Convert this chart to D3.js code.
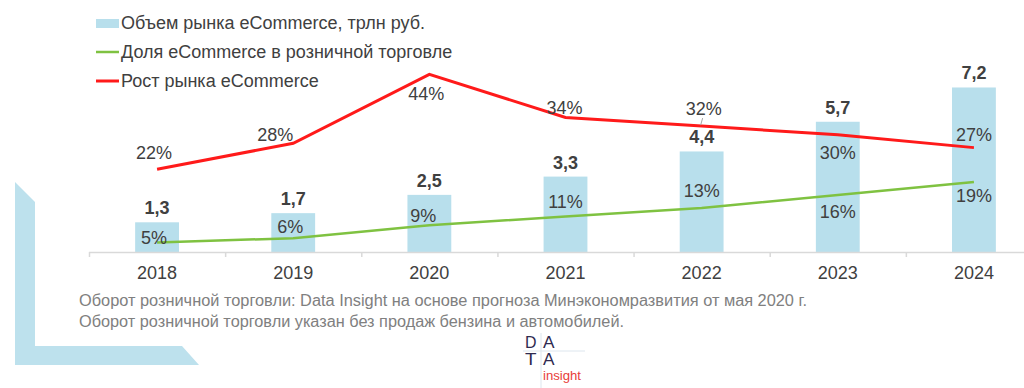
<!DOCTYPE html>
<html>
<head>
<meta charset="utf-8">
<script src="https://cdn.jsdelivr.net/npm/d3@7/dist/d3.min.js"></script>
<style>
  html, body { margin: 0; padding: 0; background: #fff; }
  svg { display: block; }
  text { font-family: Arial, "Liberation Sans", sans-serif; }
</style>
</head>
<body>
<svg id="chart" width="1024" height="388"></svg>
<script>
// ---- data ----
const years = ["2018", "2019", "2020", "2021", "2022", "2023", "2024"];
const marketVolume = [1.3, 1.7, 2.5, 3.3, 4.4, 5.7, 7.2];          // трлн руб.
const marketVolumeLabels = ["1,3", "1,7", "2,5", "3,3", "4,4", "5,7", "7,2"];
const retailShare = [5, 6, 9, 11, 13, 16, 19];                      // %
const marketGrowth = [22, 28, 44, 34, 32, 30, 27];                  // %
const legendLabels = [
  "Объем рынка eCommerce, трлн руб.",
  "Доля eCommerce в розничной торговле",
  "Рост рынка eCommerce"
];
const footnotes = [
  "Оборот розничной торговли: Data Insight на основе прогноза Минэкономразвития от мая 2020 г.",
  "Оборот розничной торговли указан без продаж бензина и автомобилей."
];
const logoLetters = ["D", "A", "T", "A"];
const logoSub = "insight";

// ---- layout / style ----
const colors = { bar: "#b8dfec", green: "#7fc241", red: "#ff1a1a", text: "#404040", axis: "#d9d9d9", foot: "#808080", deco: "#bde1ed" };
const growthLabelOffset = [[-3, -16], [-18, -9], [-3, 19], [-1, -10], [2, -17], [0, 18], [0, -13]];
const shareLabelOffset = [[-3, -5], [-3, -11], [-6, -10], [0, -15], [0, -17], [0, 17], [0, 14]];

const svg = d3.select("#chart");

// decorative bracket
svg.append("path")
  .attr("d", "M15,182 L35,202 L35,346 L182,346 L199,365 L15,365 Z")
  .attr("fill", colors.deco);

const x = d3.scaleBand().domain(years).range([89, 1042]).padding(0);
const yBar = d3.scaleLinear().domain([0, 8]).range([252, 252 - 8 * 22.85]);
const yPct = d3.scaleLinear().domain([0, 50]).range([264, 264 - 50 * 4.31]);
const cx = d => x(d) + x.bandwidth() / 2;
const barW = x.bandwidth() * 0.322;

// bars
svg.append("g").selectAll("rect").data(years).join("rect")
  .attr("x", d => cx(d) - barW / 2)
  .attr("y", (d, i) => yBar(marketVolume[i]))
  .attr("width", barW)
  .attr("height", (d, i) => yBar(0) - yBar(marketVolume[i]))
  .attr("fill", colors.bar);

// x axis
const axisG = svg.append("g");
axisG.append("line")
  .attr("x1", x.range()[0]).attr("x2", 1024)
  .attr("y1", yBar(0) + 0.5).attr("y2", yBar(0) + 0.5)
  .attr("stroke", colors.axis).attr("stroke-width", 1.5);
axisG.selectAll("line.tick").data(years).join("line")
  .attr("class", "tick")
  .attr("x1", d => x(d) + 0.5).attr("x2", d => x(d) + 0.5)
  .attr("y1", yBar(0)).attr("y2", yBar(0) + 5)
  .attr("stroke", colors.axis).attr("stroke-width", 1.5);
axisG.selectAll("text").data(years).join("text")
  .attr("x", d => cx(d)).attr("y", yBar(0) + 27)
  .attr("text-anchor", "middle")
  .attr("font-size", 18).attr("fill", colors.text)
  .text(d => d);

// lines
const line = d3.line().x(d => d[0]).y(d => d[1]);
svg.append("path")
  .attr("d", line(years.map((d, i) => [cx(d), yPct(retailShare[i])])))
  .attr("fill", "none").attr("stroke", colors.green).attr("stroke-width", 2.5);
svg.append("path")
  .attr("d", line(years.map((d, i) => [cx(d), yPct(marketGrowth[i])])))
  .attr("fill", "none").attr("stroke", colors.red).attr("stroke-width", 3);

// bar value labels
svg.append("g").selectAll("text").data(years).join("text")
  .attr("x", d => cx(d))
  .attr("y", (d, i) => yBar(marketVolume[i]) - 8)
  .attr("text-anchor", "middle")
  .attr("font-size", 18).attr("font-weight", "bold").attr("fill", colors.text)
  .text((d, i) => marketVolumeLabels[i]);

// leader line for 2022 growth label
svg.append("line")
  .attr("x1", cx("2022") + 1).attr("y1", yPct(marketGrowth[4]) - 8)
  .attr("x2", cx("2022") - 1).attr("y2", yPct(marketGrowth[4]) - 1)
  .attr("stroke", "#a6a6a6").attr("stroke-width", 1);

// growth labels
svg.append("g").selectAll("text").data(years).join("text")
  .attr("x", (d, i) => cx(d) + growthLabelOffset[i][0])
  .attr("y", (d, i) => yPct(marketGrowth[i]) + growthLabelOffset[i][1])
  .attr("dy", "0.35em")
  .attr("text-anchor", "middle")
  .attr("font-size", 18).attr("fill", colors.text)
  .text((d, i) => marketGrowth[i] + "%");

// share labels
svg.append("g").selectAll("text").data(years).join("text")
  .attr("x", (d, i) => cx(d) + shareLabelOffset[i][0])
  .attr("y", (d, i) => yPct(retailShare[i]) + shareLabelOffset[i][1])
  .attr("dy", "0.35em")
  .attr("text-anchor", "middle")
  .attr("font-size", 18).attr("fill", colors.text)
  .text((d, i) => retailShare[i] + "%");

// legend
const leg = svg.append("g");
legendLabels.forEach((t, i) => {
  const yy = 23 + i * 29;
  if (i === 0) {
    leg.append("rect").attr("x", 96).attr("y", yy - 4).attr("width", 23).attr("height", 9).attr("fill", colors.bar);
  } else {
    leg.append("line").attr("x1", 96).attr("x2", 119).attr("y1", yy).attr("y2", yy)
      .attr("stroke", i === 1 ? colors.green : colors.red).attr("stroke-width", i === 1 ? 2.5 : 3);
  }
  leg.append("text").attr("x", 121).attr("y", yy).attr("dy", "0.35em")
    .attr("font-size", 18).attr("fill", colors.text).text(t);
});

// footnotes
const footW = [728, 545];
footnotes.forEach((t, i) => {
  svg.append("text")
    .attr("x", 79).attr("y", 306 + i * 21)
    .attr("font-size", 16).attr("fill", colors.foot)
    .attr("textLength", footW[i]).attr("lengthAdjust", "spacingAndGlyphs")
    .text(t);
});

// logo
const logo = svg.append("g");
logo.append("line").attr("x1", 541).attr("x2", 541).attr("y1", 333).attr("y2", 388).attr("stroke", "#dde6ee").attr("stroke-width", 1);
logo.append("line").attr("x1", 523).attr("x2", 585).attr("y1", 351).attr("y2", 351).attr("stroke", "#dde6ee").attr("stroke-width", 1);
const logoPos = [[525, 348], [543, 348], [525, 365], [543, 365]];
logoLetters.forEach((c, i) => {
  logo.append("text").attr("x", logoPos[i][0]).attr("y", logoPos[i][1]).attr("font-size", 16)
    .attr("font-family", "'DejaVu Sans', sans-serif").attr("font-weight", 200)
    .attr("textLength", 11.5).attr("lengthAdjust", "spacingAndGlyphs")
    .attr("fill", "#2e2a4f").text(c);
});
logo.append("text").attr("x", 543).attr("y", 380).attr("font-size", 13)
  .attr("font-family", "'DejaVu Sans', sans-serif")
  .attr("fill", "#e8403a").attr("textLength", 38).attr("lengthAdjust", "spacingAndGlyphs").text(logoSub);
</script>
</body>
</html>
